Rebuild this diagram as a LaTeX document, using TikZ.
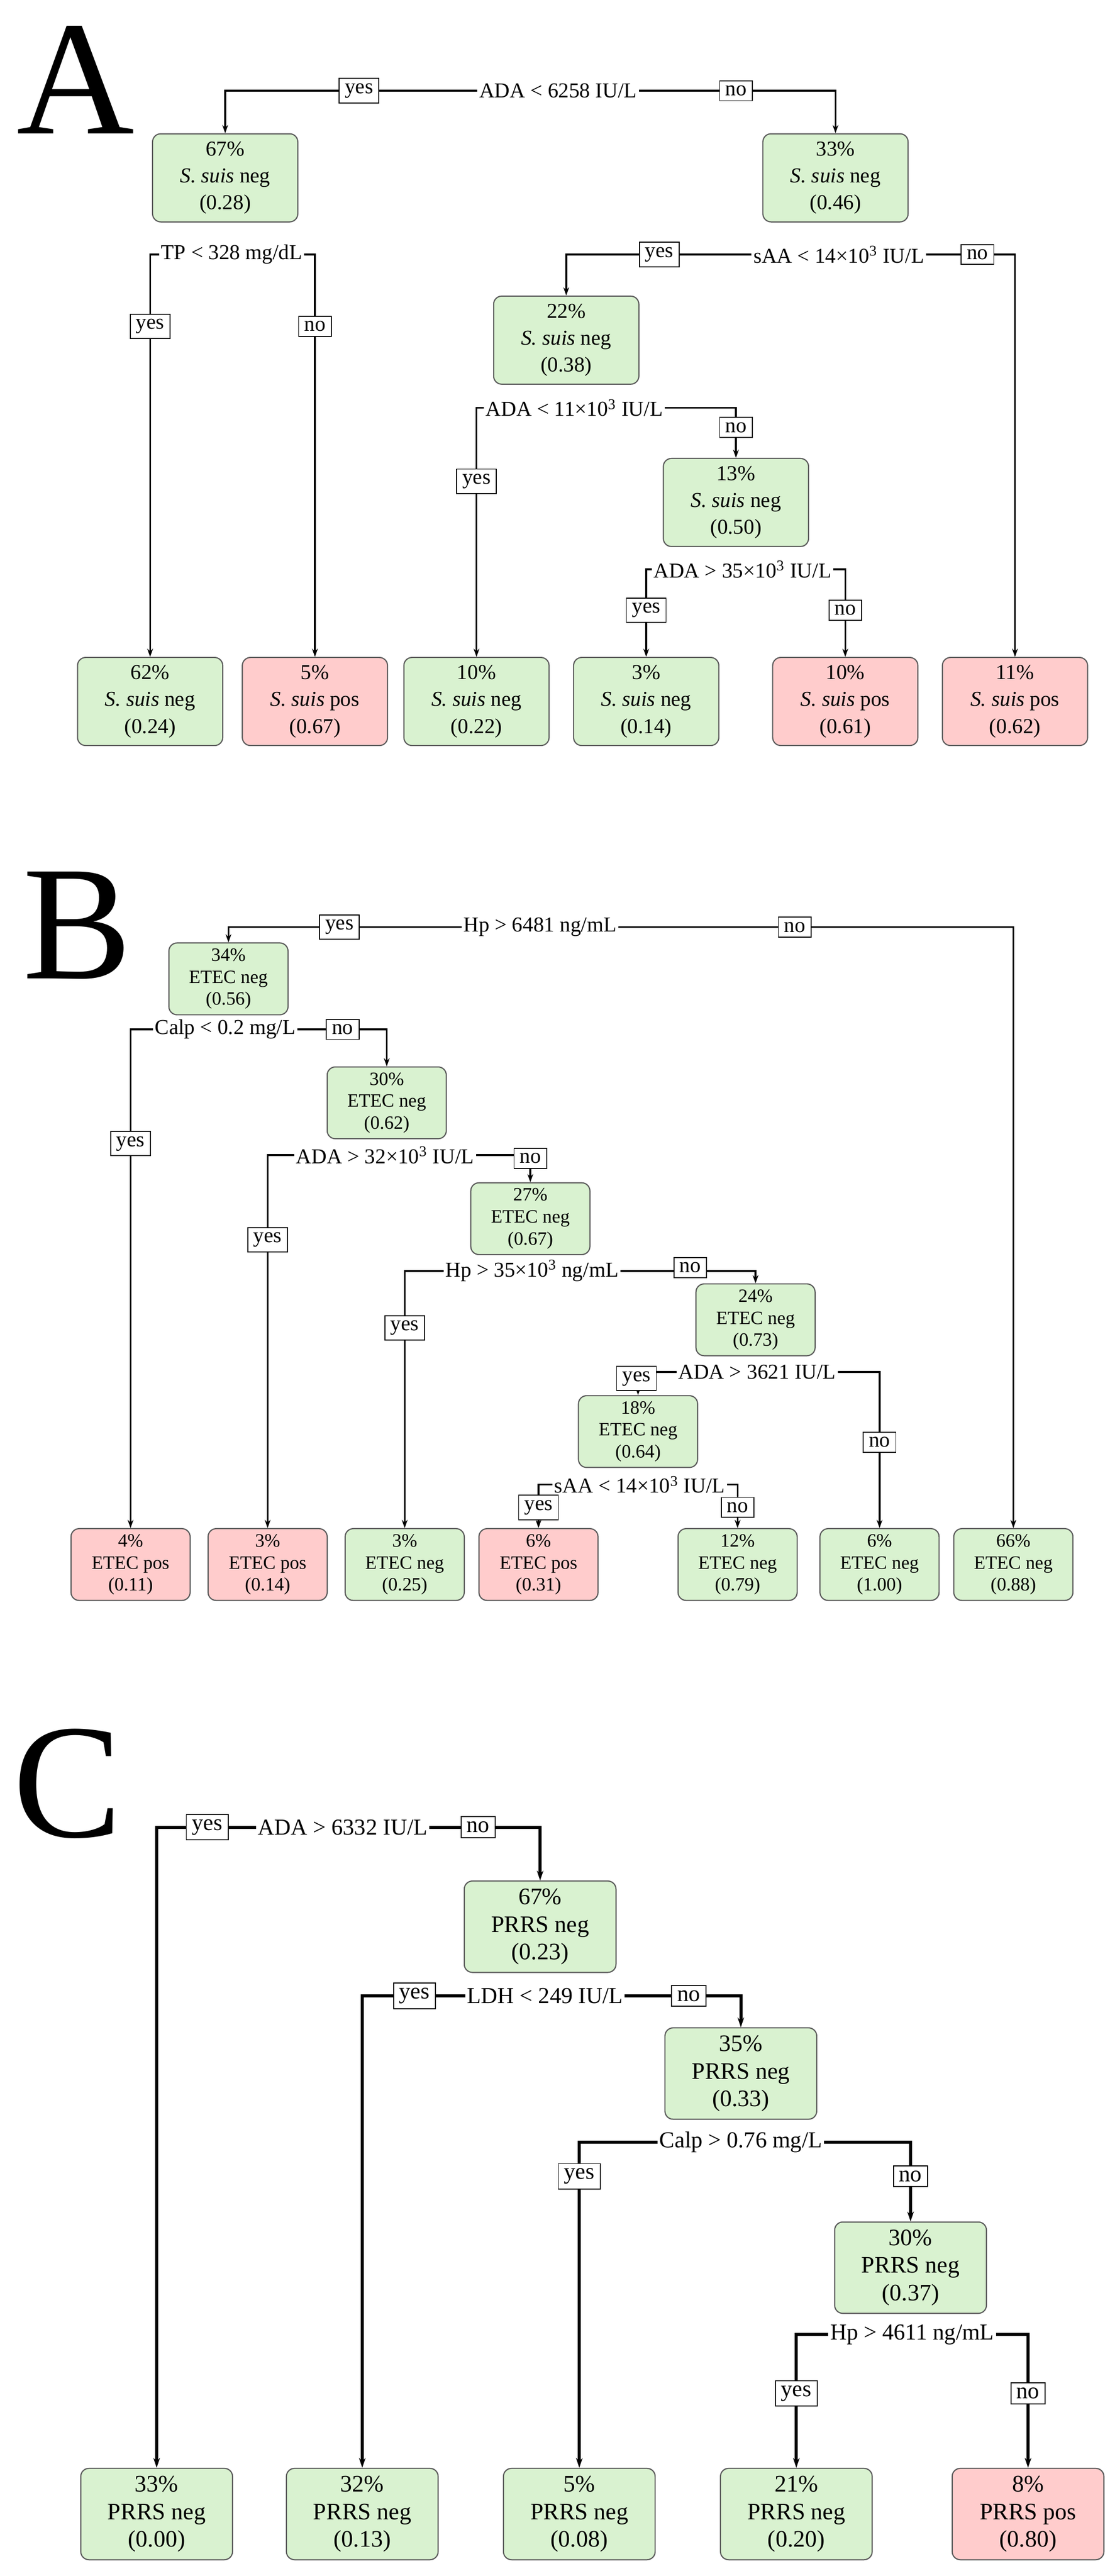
\documentclass[tikz,border=0pt]{standalone}
\usepackage{fontspec}
\setmainfont{Liberation Serif}
\usetikzlibrary{arrows.meta}
\definecolor{gfill}{HTML}{D9F2D0}
\definecolor{pfill}{HTML}{FFCCCC}
\definecolor{bord}{HTML}{5A5A5A}
\begin{document}
\begin{tikzpicture}[x=1pt,y=-1pt,
  box/.style={draw=bord,rounded corners=5pt,align=center,inner sep=0pt,line width=0.7pt},
  bA/.style={box,minimum width=89pt,minimum height=54pt,font=\fontsize{13}{16.5}\selectfont},
  bB/.style={box,minimum width=73pt,minimum height=44pt,font=\fontsize{11.5}{13.5}\selectfont},
  bC/.style={box,minimum width=93pt,minimum height=56pt,font=\fontsize{14.5}{17}\selectfont},
  g/.style={fill=gfill}, p/.style={fill=pfill},
  yn/.style={draw,fill=white,inner xsep=3.5pt,inner ysep=3pt,line width=0.6pt},
  lbl/.style={inner sep=1pt},
  arr/.style={-{Stealth[length=5pt,width=3.5pt]},line width=1.1pt},
  arrC/.style={-{Stealth[length=6pt,width=4pt]},line width=1.9pt},
  big/.style={font=\fontsize{100}{100}\selectfont,inner sep=0pt,anchor=base west}]
\useasboundingbox (0,0) rectangle (680,1579);
\def\ss{\textit{S.~suis}}
% ================= A =================
\node[big] (LA) at (10,82) {A};
\begin{scope}[every node/.append style={font=\fontsize{13}{16}\selectfont}]
\node[bA,g] (a1) at (138,109) {67\%\\\ss{} neg\\(0.28)};
\node[bA,g] (a2) at (512,109) {33\%\\\ss{} neg\\(0.46)};
\node[bA,g] (a3) at (347,208.5) {22\%\\\ss{} neg\\(0.38)};
\node[bA,g] (a4) at (451,308) {13\%\\\ss{} neg\\(0.50)};
\node[bA,g] (al1) at (92,430) {62\%\\\ss{} neg\\(0.24)};
\node[bA,p] (al2) at (193,430) {5\%\\\ss{} pos\\(0.67)};
\node[bA,g] (al3) at (292,430) {10\%\\\ss{} neg\\(0.22)};
\node[bA,g] (al4) at (396,430) {3\%\\\ss{} neg\\(0.14)};
\node[bA,p] (al5) at (518,430) {10\%\\\ss{} pos\\(0.61)};
\node[bA,p] (al6) at (622,430) {11\%\\\ss{} pos\\(0.62)};
\node[lbl] (ar) at (342,55.6) {ADA < 6258 IU/L};
\node[lbl] (atp) at (142,156) {TP < 328 mg/dL};
\node[lbl] (asaa) at (514,156) {sAA < 14×10\textsuperscript{3} IU/L};
\node[lbl] (aada) at (352,250) {ADA < 11×10\textsuperscript{3} IU/L};
\node[lbl] (aada2) at (455,349) {ADA > 35×10\textsuperscript{3} IU/L};
\draw[arr] (ar.west) -| (a1.north);
\draw[arr] (ar.east) -| (a2.north);
\draw[arr] (atp.west) -| (al1.north);
\draw[arr] (atp.east) -| (al2.north);
\draw[arr] (asaa.west) -| (a3.north);
\draw[arr] (asaa.east) -| (al6.north);
\draw[arr] (aada.west) -| (al3.north);
\draw[arr] (aada.east) -| (a4.north);
\draw[arr] (aada2.west) -| (al4.north);
\draw[arr] (aada2.east) -| (al5.north);
\node[yn] (ay1) at (220,55.6) {yes};
\node[yn] (an1) at (451,55.6) {no};
\node[yn] (ay2) at (92,200) {yes};
\node[yn] (an2) at (193,200) {no};
\node[yn] (ay3) at (404,156) {yes};
\node[yn] (an3) at (599,156) {no};
\node[yn] (ay4) at (292,295) {yes};
\node[yn] (an4) at (451,262) {no};
\node[yn] (ay5) at (396,374) {yes};
\node[yn] (an5) at (518,374) {no};
\end{scope}
% ================= B =================
\node[big] (LB) at (14,600) {B};
\begin{scope}[every node/.append style={font=\fontsize{13}{15}\selectfont}]
\node[bB,g] (b1) at (140,600) {34\%\\ETEC neg\\(0.56)};
\node[bB,g] (b2) at (237,676) {30\%\\ETEC neg\\(0.62)};
\node[bB,g] (b3) at (325,747) {27\%\\ETEC neg\\(0.67)};
\node[bB,g] (b4) at (463,809) {24\%\\ETEC neg\\(0.73)};
\node[bB,g] (b5) at (391,877.5) {18\%\\ETEC neg\\(0.64)};
\node[bB,p] (bl1) at (80,959) {4\%\\ETEC pos\\(0.11)};
\node[bB,p] (bl2) at (164,959) {3\%\\ETEC pos\\(0.14)};
\node[bB,g] (bl3) at (248,959) {3\%\\ETEC neg\\(0.25)};
\node[bB,p] (bl4) at (330,959) {6\%\\ETEC pos\\(0.31)};
\node[bB,g] (bl5) at (452,959) {12\%\\ETEC neg\\(0.79)};
\node[bB,g] (bl6) at (539,959) {6\%\\ETEC neg\\(1.00)};
\node[bB,g] (bl7) at (621,959) {66\%\\ETEC neg\\(0.88)};
\node[lbl] (br) at (331,568.3) {Hp > 6481 ng/mL};
\node[lbl] (bc) at (138,631) {Calp < 0.2 mg/L};
\node[lbl] (ba) at (236,708) {ADA > 32×10\textsuperscript{3} IU/L};
\node[lbl] (bh) at (326,779) {Hp > 35×10\textsuperscript{3} ng/mL};
\node[lbl] (ba2) at (464,841) {ADA > 3621 IU/L};
\node[lbl] (bs) at (392,910) {sAA < 14×10\textsuperscript{3} IU/L};
\draw[arr] (br.west) -| (b1.north);
\draw[arr] (br.east) -| (bl7.north);
\draw[arr] (bc.west) -| (bl1.north);
\draw[arr] (bc.east) -| (b2.north);
\draw[arr] (ba.west) -| (bl2.north);
\draw[arr] (ba.east) -| (b3.north);
\draw[arr] (bh.west) -| (bl3.north);
\draw[arr] (bh.east) -| (b4.north);
\draw[arr] (ba2.west) -| (b5.north);
\draw[arr] (ba2.east) -| (bl6.north);
\draw[arr] (bs.west) -| (bl4.north);
\draw[arr] (bs.east) -| (bl5.north);
\node[yn] (by1) at (208,568.3) {yes};
\node[yn] (bn1) at (487,568.3) {no};
\node[yn] (by2) at (80,701) {yes};
\node[yn] (bn2) at (210,631) {no};
\node[yn] (by3) at (164,760) {yes};
\node[yn] (bn3) at (325,710) {no};
\node[yn] (by4) at (248,814) {yes};
\node[yn] (bn4) at (423,777) {no};
\node[yn] (by5) at (390,845) {yes};
\node[yn] (bn5) at (539,884) {no};
\node[yn] (by6) at (330,924) {yes};
\node[yn] (bn6) at (452,924) {no};
\end{scope}
% ================= C =================
\node[big] (LC) at (8,1126) {C};
\begin{scope}[every node/.append style={font=\fontsize{14}{17}\selectfont}]
\node[bC,g] (c1) at (331,1181) {67\%\\PRRS neg\\(0.23)};
\node[bC,g] (c2) at (454,1271) {35\%\\PRRS neg\\(0.33)};
\node[bC,g] (c3) at (558,1390) {30\%\\PRRS neg\\(0.37)};
\node[bC,g] (cl1) at (96,1541) {33\%\\PRRS neg\\(0.00)};
\node[bC,g] (cl2) at (222,1541) {32\%\\PRRS neg\\(0.13)};
\node[bC,g] (cl3) at (355,1541) {5\%\\PRRS neg\\(0.08)};
\node[bC,g] (cl4) at (488,1541) {21\%\\PRRS neg\\(0.20)};
\node[bC,p] (cl5) at (630,1541) {8\%\\PRRS pos\\(0.80)};
\node[lbl] (cr) at (210,1120) {ADA > 6332 IU/L};
\node[lbl] (cd) at (334,1223.4) {LDH < 249 IU/L};
\node[lbl] (cc) at (454,1313) {Calp > 0.76 mg/L};
\node[lbl] (ch) at (559,1431) {Hp > 4611 ng/mL};
\draw[arrC] (cr.west) -| (cl1.north);
\draw[arrC] (cr.east) -| (c1.north);
\draw[arrC] (cd.west) -| (cl2.north);
\draw[arrC] (cd.east) -| (c2.north);
\draw[arrC] (cc.west) -| (cl3.north);
\draw[arrC] (cc.east) -| (c3.north);
\draw[arrC] (ch.west) -| (cl4.north);
\draw[arrC] (ch.east) -| (cl5.north);
\node[yn] (cy1) at (127,1120) {yes};
\node[yn] (cn1) at (293,1120) {no};
\node[yn] (cy2) at (254,1223.4) {yes};
\node[yn] (cn2) at (422,1223.4) {no};
\node[yn] (cy3) at (355,1334) {yes};
\node[yn] (cn3) at (558,1334) {no};
\node[yn] (cy4) at (488,1467) {yes};
\node[yn] (cn4) at (630,1467) {no};
\end{scope}
\end{tikzpicture}
\end{document}
